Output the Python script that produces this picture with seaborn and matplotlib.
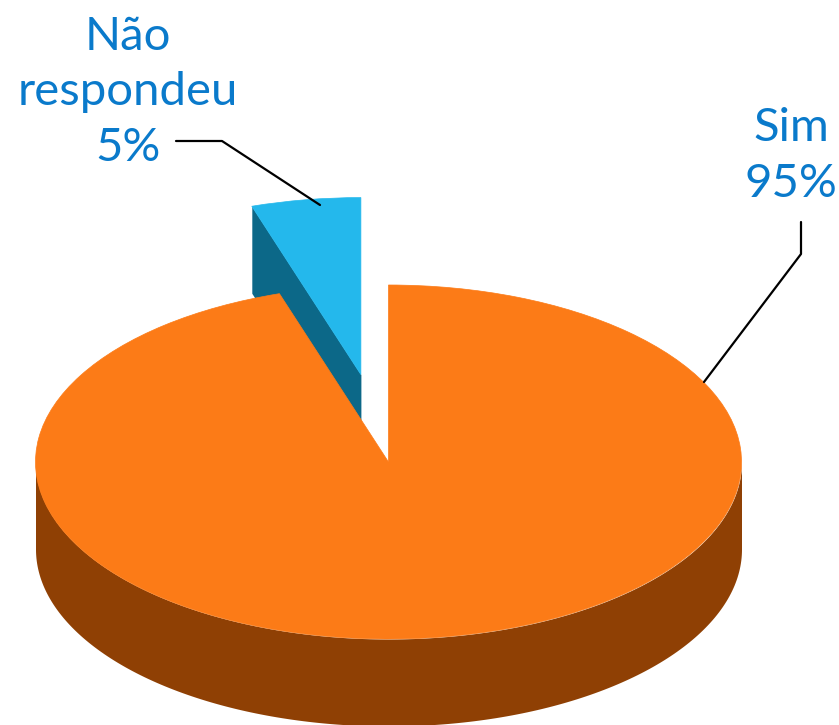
import numpy as np
import seaborn as sns
import matplotlib.pyplot as plt

categories = ['Sim', 'Não\nrespondeu']
shares = [95, 5]
explode = [0, 0.5]
top_colors = ['#fc7b17', '#24b8ec']
side_colors = ['#8f4004', '#0c6888']
text_color = '#0a7acb'

sns.set_theme(style='white')
plt.rcParams['font.family'] = ['Lato', 'DejaVu Sans']

W, H = 839, 725
cx, cy = 388.5, 462
rx, ry = 353, 177
depth = 87
k = ry / rx


def py(y):
    # picture rows to squashed data units
    return (H - y) / k


fig = plt.figure(figsize=(W / 100, H / 100), dpi=100)
ax = fig.add_axes([0, 0, 1, 1])

wedges, _ = ax.pie(
    shares,
    explode=[e * rx for e in explode],
    colors=top_colors,
    startangle=90,
    counterclock=False,
    radius=rx,
    center=(cx, py(cy)),
    wedgeprops={'linewidth': 0.5},
)
for w in wedges:
    w.set_edgecolor(w.get_facecolor())
ax.set_aspect('auto')
ax.set_xlim(0, W)
ax.set_ylim(0, H / k)
ax.axis('off')

# walls of the big slice: front arc only
sim_end = 360 * shares[0] / sum(shares)
t = np.radians(np.linspace(90, min(270, sim_end), 200))
x = cx + rx * np.sin(t)
y = py(cy) + rx * np.cos(t)
ax.fill_between(x, y, y - depth / k, color=side_colors[0], lw=0, zorder=4)
wedges[0].set_zorder(5)

# wall of the pulled out slice, along its left cut
mid = np.radians(sim_end + 180 * shares[1] / sum(shares))
ox = cx + explode[1] * rx * np.sin(mid)
oy = py(cy) + explode[1] * rx * np.cos(mid)
a = np.radians(sim_end)
ex = np.array([ox + rx * np.sin(a), ox])
ey = np.array([oy + rx * np.cos(a), oy])
ax.fill_between(ex, ey, ey - depth / k, color=side_colors[1], lw=0, zorder=2)
wedges[1].set_zorder(3)

labels = [f'{c}\n{s}%' for c, s in zip(categories, shares)]
ax.text(791, py(197), labels[0], color=text_color, fontsize=34,
        ha='center', va='baseline', linespacing=1.4, zorder=7)
ax.text(128, py(161), labels[1], color=text_color, fontsize=34,
        ha='center', va='baseline', linespacing=1.4, zorder=7)

ax.plot([801, 801, 704], [py(222), py(254), py(382)], color='black', lw=1.6, zorder=6)
ax.plot([176, 222, 320], [py(141), py(141), py(205)], color='black', lw=1.6, zorder=6)

fig.savefig('out.png', dpi=100)
